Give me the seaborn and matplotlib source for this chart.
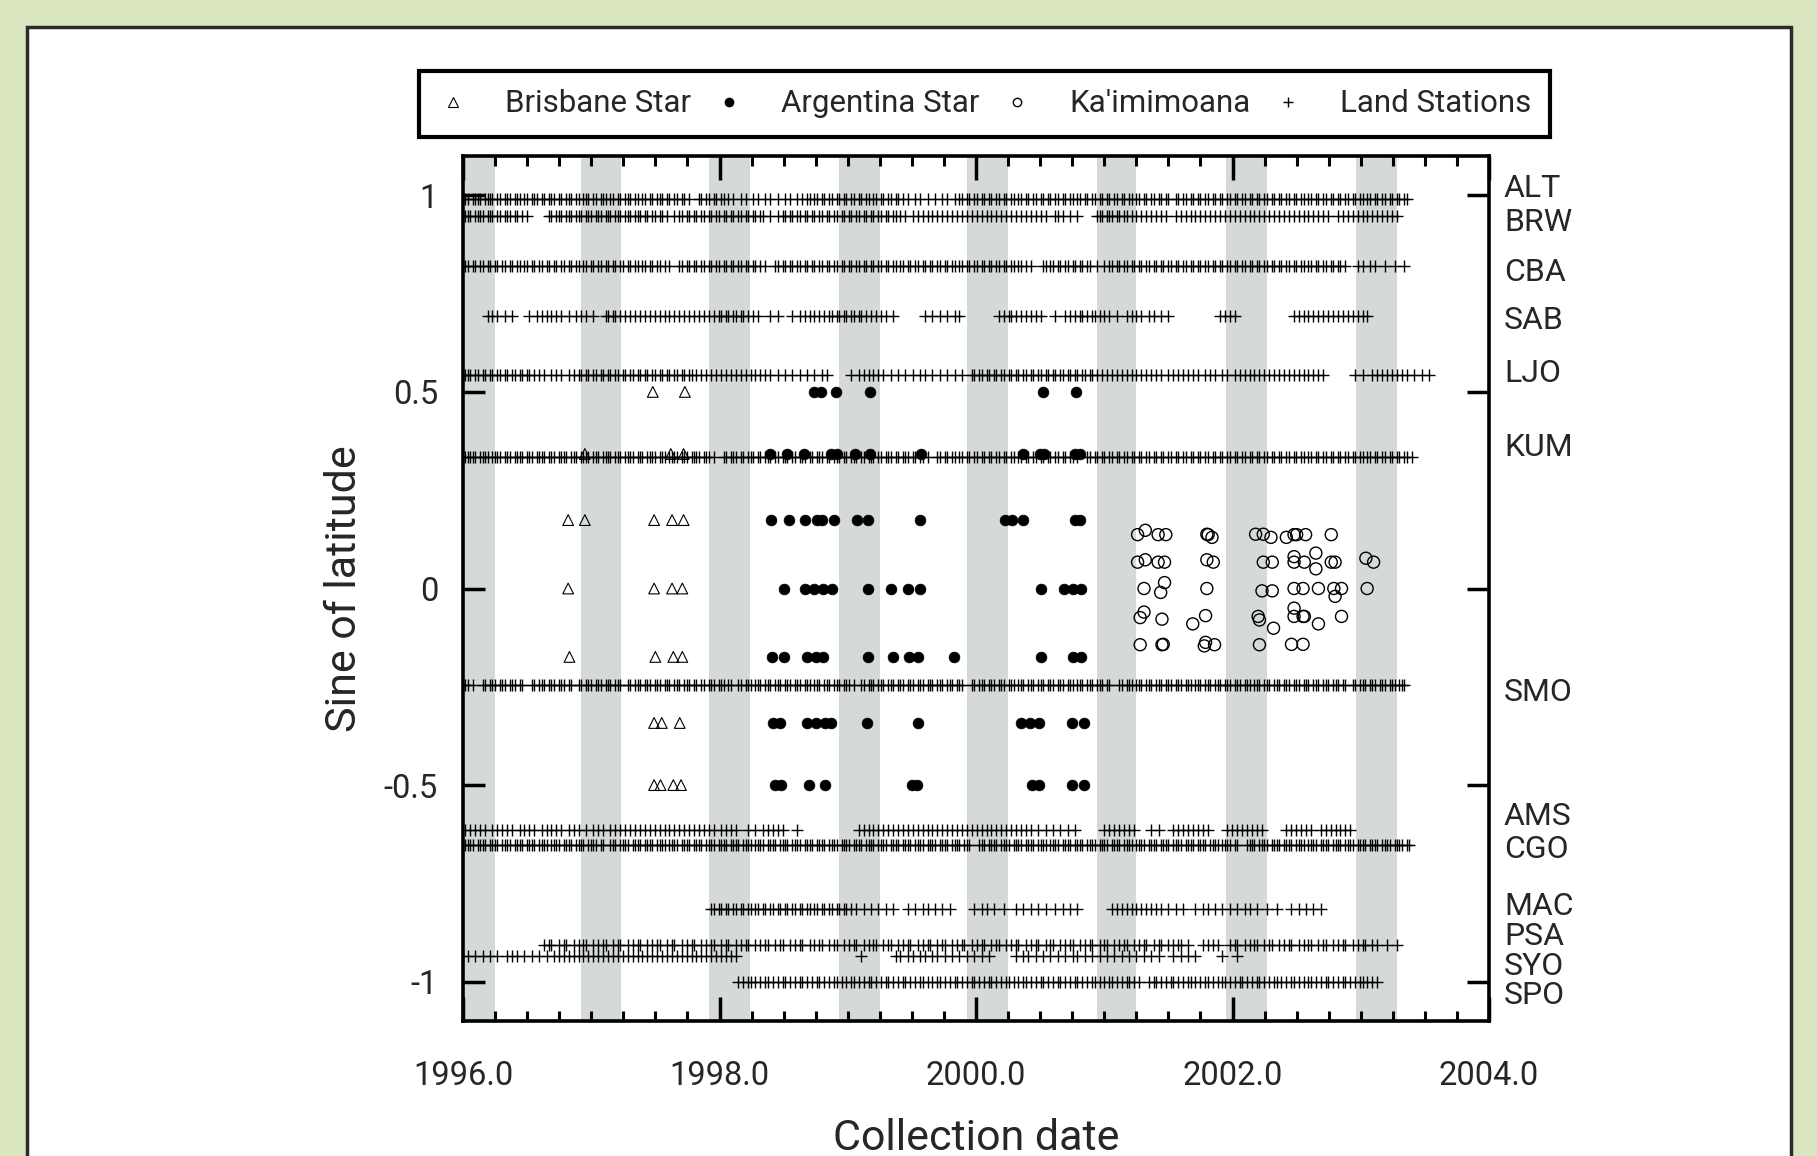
import matplotlib
matplotlib.use("Agg")
import numpy as np
import pandas as pd
import matplotlib.pyplot as plt
import matplotlib.transforms as mtransforms
import seaborn as sns
from matplotlib.lines import Line2D
from matplotlib.patches import Rectangle
from matplotlib.ticker import MultipleLocator

sns.set_theme(style="white")
plt.rcParams["font.family"] = ["Roboto", "DejaVu Sans"]

# land stations: name, sine of latitude, sampling weeks since 1 Jan 1996
station_names = ["ALT", "BRW", "CBA", "SAB", "LJO", "KUM", "SMO",
                 "AMS", "CGO", "MAC", "PSA", "SYO", "SPO"]
station_sinlat = [0.991, 0.947, 0.821, 0.694, 0.543, 0.334, -0.246,
                  -0.613, -0.652, -0.814, -0.906, -0.934, -1.000]

alt_wk = [0, 1, 2, 4, 5, 6, 7, 9, 10, 11, 12, 14, 15, 17, 18, 19, 21, 22, 23, 25, 26, 28, 29, 30, 32, 33,
          35, 36, 37, 39, 40, 42, 43, 44, 46, 47, 49, 50, 51, 53, 54, 56, 57, 58, 60, 61, 63, 64, 66, 67,
          68, 70, 71, 73, 74, 76, 77, 79, 80, 81, 83, 84, 86, 87, 89, 90, 92,
          96, 97, 99, 100, 102, 103, 105, 106, 108, 110, 113, 115, 118, 120, 123, 125, 128, 131, 133, 136,
          138, 140, 141, 143, 144, 146, 147, 149, 150, 152, 153, 155, 156, 158, 159, 161, 162, 164, 165,
          167, 168, 170, 171, 173, 174, 176, 177, 179, 181, 184, 186, 189, 192, 195, 197, 200, 202, 203,
          205, 206, 208, 209, 211, 212, 214, 215, 217, 218, 220, 221, 223, 224, 226, 227, 229, 230, 232,
          233, 235, 236, 238, 239, 241, 242, 244, 245, 247, 248, 250, 251, 253, 254, 256, 257, 259, 260,
          262, 263, 265, 266, 268, 269, 271, 272, 274, 275, 277, 278, 280, 281, 283, 284, 286, 287,
          290, 291, 293, 294, 296, 297, 299, 300, 302, 303, 305, 306, 308, 309, 311, 312, 314, 315, 317,
          318, 320, 321, 323, 324, 326, 327, 329, 330, 332, 333, 335, 336, 338, 339, 341, 342, 344, 345,
          347, 348, 350, 351, 353, 354, 356, 357, 359, 360, 362, 363, 365, 366, 368, 369, 371, 372, 374,
          375, 377, 378, 380, 381, 383, 384]
brw_wk = [0, 1, 2, 3, 5, 6, 7, 8, 10, 11, 12, 14, 15, 17, 18, 19, 21, 22, 24, 26,
          35, 36, 38, 39, 40, 42, 43, 44, 46, 47, 48, 50, 51, 52, 54, 55, 56, 58, 59, 60, 62, 63, 64, 66,
          67, 68, 70, 71, 72, 74, 75, 77, 78, 80, 81, 83,
          86, 88, 89, 91, 92, 94, 95, 97, 98, 100, 101, 103, 104, 106, 107, 109, 110, 112, 113, 115, 116,
          118, 119, 121, 122, 125, 128, 130, 131, 133, 134, 136, 137, 139, 140, 142, 143, 145, 146, 148,
          149, 151, 152, 154, 155, 157, 158, 160, 161, 163, 164, 166, 167, 169, 170, 172, 173, 175, 176,
          178, 180, 183,
          185, 187, 189, 191, 193, 195, 197, 199, 201, 203, 205, 207, 209, 211, 213, 215, 217, 219, 221,
          223, 225, 227, 229, 231, 233, 235, 237,
          241, 242, 244, 247, 250,
          258, 259, 260, 262, 263, 264, 266, 267, 269, 270, 272, 274, 276, 278, 280, 282, 284, 286, 290,
          292, 294, 296, 298, 300, 302, 304, 306, 308, 310, 312, 314, 316, 318, 320, 322, 324, 326, 328,
          330, 332, 334, 336, 338, 340, 342, 344, 346, 348, 350, 352, 356, 358, 360, 362, 364, 366, 368,
          370, 372, 374, 376, 378, 380]
cba_wk = [0, 1, 2, 4, 5, 7, 8, 10, 11, 13, 14, 16, 17, 19, 20, 22, 23, 25, 26, 28, 29, 31, 32, 34, 35,
          37, 38, 40, 41, 43, 44, 46, 47, 49, 50, 52, 53, 55, 56, 58, 59, 61, 62, 64, 65, 67, 68, 70, 71,
          73, 74, 76, 77, 79, 80, 82, 84,
          88, 89, 91, 92, 94, 95, 97, 98, 100, 101, 103, 104, 106, 107, 109, 110, 112, 113, 115, 116, 118,
          119, 121, 123,
          127, 128, 130, 131, 133, 134, 136, 137, 139, 140, 142, 143, 145, 146, 148, 149, 151, 152, 154,
          155, 157, 158, 160, 161, 163, 164, 166, 167, 169, 170, 172, 173, 175, 176, 178, 179, 181, 182,
          184, 185, 187, 188, 190, 191, 193, 194, 196, 197, 199, 200, 202, 203, 205, 206, 208, 209, 211,
          212, 214, 215, 217, 218, 220, 221, 223, 224, 226, 227, 229, 231,
          236, 237, 239, 240, 242, 243, 245, 246, 248, 249, 251, 252, 254, 255, 258, 261, 263, 264, 266,
          267, 269, 270, 272, 273, 275, 276, 278, 279, 281, 282, 284, 285, 287, 288, 290, 291, 293, 294,
          296, 297, 299, 300, 302, 303, 305, 306, 308, 309, 311, 312, 314, 315, 317, 318, 320, 321, 323,
          324, 326, 327, 329, 330, 332, 333, 335, 336, 338, 339, 341, 342, 344, 345, 347, 348, 350, 351,
          353, 354, 356, 357, 359,
          364, 366, 369, 371, 375, 379, 383]
sab_wk = [10, 12, 14, 17, 20,
          27, 30, 32, 34, 36, 38, 40, 43, 46, 48, 50, 53,
          58, 59, 61, 62, 64, 66, 68, 70, 72, 74, 76, 78, 80, 82, 84, 86, 88, 90, 92, 94, 96, 98, 100, 102,
          104, 105, 107, 108, 110, 111, 113, 114, 116, 118, 120,
          125, 128,
          134, 137, 139, 141, 143, 145, 147, 149, 150, 152, 153, 155, 156, 158, 159, 161, 162, 164, 166,
          168, 170, 172, 175,
          188, 191, 194, 197, 200, 202,
          218, 220, 222, 223, 225, 227, 229, 231, 233, 235,
          241, 245, 247, 249, 251, 252, 254, 256, 257, 259, 261, 263, 266,
          270, 272, 274, 276, 279, 281, 284, 287,
          308, 310, 312, 314,
          338, 340, 342, 344, 346, 348, 350, 352, 354, 356, 358, 360, 362, 364, 366, 368]
ljo_wk = [0, 1, 2, 3, 5, 6, 8, 9, 11, 12, 14, 15, 17, 18, 20, 21, 23, 24, 26, 27,
          29, 31, 33, 36, 38, 40, 43, 45, 47, 48, 50, 51, 53, 54, 56, 57, 59, 60, 62, 63, 65, 66, 68, 69,
          71, 72, 74, 75, 77, 78, 80, 81, 83, 84, 86, 87, 89, 90, 92, 93, 95, 97, 99, 101, 103, 105, 107,
          109, 111, 113, 115, 117, 119, 121, 123, 125, 128, 131, 134, 137, 140, 143, 146, 148,
          158, 161, 163, 165, 167, 169,
          171, 174, 177, 180, 183, 186, 188, 191, 194, 197, 200, 203,
          207, 208, 210, 211, 213, 214, 216, 217, 219, 220, 222, 223, 225, 226, 228, 229, 231, 232, 234,
          235, 237, 238, 240, 241, 243, 244, 246, 247, 249, 250, 252, 253, 255, 256, 258, 260,
          262, 264, 266, 268, 270, 272, 274, 276, 278, 280, 282, 284, 287,
          289, 291, 293, 295, 297, 299, 302, 304, 306, 309, 311, 314,
          316, 318, 320, 322, 324, 326, 328, 330, 332, 334, 336, 338, 340, 342, 344, 346, 348, 350,
          363, 366,
          370, 372, 374, 376, 378, 380, 382, 384, 387, 390, 393]
kum_wk = [0, 1, 2, 3, 4, 5, 7, 8, 9, 10, 12, 13, 14, 15, 17, 18, 19, 21, 22, 23, 24, 26, 27, 28, 30, 31,
          32, 33, 35, 36, 37, 39, 40, 41, 42, 44, 45, 46, 48, 49, 50, 51, 53, 54, 55, 57, 58, 59, 60, 62,
          63, 64, 66, 67, 68, 69, 71, 72, 73, 75, 76, 77, 78, 80, 81, 82, 84, 85, 86, 87, 89, 90, 91, 93,
          94, 95, 96, 98, 99, 100, 102,
          106, 107, 109, 110, 111, 113, 114, 116, 117, 118, 120, 121, 123, 124, 125, 127, 128, 130, 131,
          132, 134, 135, 137, 138, 139, 141, 142, 144, 145, 146, 148, 149, 151, 152, 153, 155, 156, 158,
          159, 160, 162, 163, 165, 166, 167, 169, 170, 172, 173, 174, 176, 177, 179, 180, 181, 183, 184,
          186, 187, 189,
          193, 194, 196, 197, 199, 200, 202, 203, 205, 206, 208, 209, 211, 212, 214, 215, 217, 218, 220,
          221, 223, 224, 226, 227, 229, 230, 232, 233, 235, 236, 238, 239, 241, 242, 244, 245, 247, 248,
          250,
          254, 255, 257, 258, 260, 261, 263, 264, 266, 267, 269, 270, 272, 273, 275, 276, 278, 279, 281,
          282, 284, 285, 287, 288, 290, 291, 293, 294, 296, 297, 299, 300, 302, 303, 305, 306, 308, 309,
          311, 312, 314, 315, 317, 318, 320, 321, 323, 324, 326, 327, 329, 330, 332, 333, 335, 336, 338,
          339, 341, 342, 344, 345, 347, 348, 350, 351, 353, 354, 356, 357, 359, 360, 362, 363, 365, 366,
          368, 369, 371, 372, 374, 375, 377, 378, 380, 381, 383, 384, 386]
smo_wk = [0, 1, 2, 4,
          8, 9, 11, 12, 13, 15, 16, 17, 19, 20, 21, 23, 24,
          28, 29, 31, 32, 33, 35, 36, 37, 39, 40, 41, 43, 44,
          47, 48, 50, 51, 52, 54, 55, 56, 58, 59, 60, 62, 63, 64,
          67, 68, 70, 71, 72, 74, 75, 76, 78, 79, 80, 82, 83, 84, 86, 87, 88, 90, 91, 92, 94, 95,
          97, 98, 100, 101, 102, 104, 105, 106, 108, 109,
          112, 113, 115, 116, 117, 119, 120, 121, 123, 124, 125, 127, 128, 129, 131, 132, 133, 135, 136,
          137, 139, 140, 141, 143, 144, 145, 147, 148, 149, 151, 152, 153, 155, 156, 157, 159,
          162, 163, 165, 166, 167, 169, 170, 171, 173, 174, 175, 177, 178, 179, 181, 182, 183, 185, 186,
          187, 189, 190, 191, 193, 194, 195, 197, 198, 199, 201, 202, 203,
          207, 208, 210, 211, 212, 214, 215, 216, 218, 219, 220, 222, 223, 224, 226, 227, 228, 230, 231,
          232, 234, 235, 236, 238, 239, 240, 242, 243, 244, 246, 247, 248, 250, 251, 252, 254, 255, 256,
          258, 259, 260, 262, 263,
          267, 268, 270, 271, 272, 274, 275, 276, 278, 279, 280, 282, 283, 284, 286, 287, 288, 290, 291,
          292, 294, 295, 296, 298, 299, 300, 302, 303, 304, 306, 307, 308, 310, 311, 312, 314, 315, 316,
          318, 319, 320, 322, 323, 324, 326, 327, 328, 330, 331, 332, 334, 335, 336, 338, 339, 340, 342,
          343, 344, 346, 347, 348, 350, 351, 352, 354, 355, 356, 358, 359,
          362, 363, 365, 366, 367, 369, 370, 371, 373, 374, 375, 377, 378, 379, 381, 382, 383]
ams_wk = [1, 3, 5, 7, 9, 12, 14, 16, 18, 20, 23, 25, 27, 29, 32, 34, 36, 38, 40, 43, 45, 47, 50, 53, 55,
          57, 60, 62, 64, 66, 68, 70, 72, 74, 76, 78, 80, 82, 84, 86, 88, 90, 92, 94, 96, 98, 100, 102,
          105, 107, 109, 111, 116, 119, 122, 124, 126, 128, 130, 136,
          161, 163, 165, 167, 169, 171, 173, 175, 177, 179, 181, 183,
          185, 187, 189, 191, 193, 195, 197, 199, 201, 203, 205, 207, 209, 211, 213, 215, 217, 219, 221,
          223, 225, 227, 229, 231, 234, 237, 240, 243, 246, 249,
          261, 263, 265, 267, 269, 271, 273, 280, 283,
          289, 291, 293, 295, 297, 299, 301, 303,
          311, 313, 315, 317, 319, 321, 323, 325,
          335, 337, 339, 341, 343, 345, 349, 351, 353, 355, 357, 359, 361]
cgo_wk = [0, 1, 2, 3, 4, 6, 7, 8, 9, 11, 12, 13, 14, 16, 17, 18, 19, 21, 22, 23, 24, 26, 27, 28, 29,
          31, 32, 33, 34, 36, 37, 38, 39, 41, 42, 43, 44, 46, 47, 48, 49, 51, 52, 53, 54, 56, 57,
          60, 61, 62, 64, 65, 66, 67, 69, 70, 71, 72, 74, 75, 76, 77, 79, 80, 81, 82, 84, 85, 86, 87, 89,
          90, 91, 92, 94, 95, 96, 97, 99, 100, 101, 102, 104, 105, 106, 107, 109, 110, 111, 112, 114, 115,
          116, 117, 119, 120, 121, 122, 124, 125, 126, 127, 129, 130, 131, 132, 134, 135, 136, 137, 139,
          140, 141, 142, 144, 145, 146, 147, 149, 150, 151, 152, 154, 155, 156, 157, 159, 160, 161, 162,
          164, 165, 166, 167, 169, 170, 171, 172, 174, 175, 176, 177, 179, 180, 181, 182, 184, 185, 186,
          187, 189, 190, 191, 192, 194, 195, 196, 197, 199, 200, 201, 202, 204, 205, 206,
          210, 211, 212, 214, 215, 216, 217, 219, 220, 221, 222, 224, 225, 226, 227, 229, 230, 231, 232,
          234, 235, 236, 237, 239, 240, 241, 242, 244, 245, 246, 247, 249, 250, 251, 252, 254, 255, 256,
          257, 259, 260, 261, 262, 264, 265, 266, 267, 269, 270, 271, 272, 274, 275, 276, 277, 279, 280,
          281, 282, 284, 285, 286, 287, 289, 290, 291, 292, 294, 295, 296, 297, 299, 300, 301, 302, 304,
          305, 306, 307, 309, 310, 311, 312, 314, 315,
          319, 320, 321, 322, 324, 325, 326, 327, 329, 330, 331, 332, 334, 335, 336, 337, 339, 340, 341,
          342, 344, 345, 346, 347, 349, 350, 351, 352, 354, 355, 356, 357, 359, 360, 361, 362, 364, 365,
          366, 367, 369, 370, 371, 372, 374, 375, 376, 377, 379, 380, 381, 382, 384, 385]
mac_wk = [101, 102, 104, 105, 107, 108, 110, 111, 113, 114, 116, 117, 119, 120, 122, 123, 125, 126, 128,
          129, 131, 132, 134, 135, 137, 138, 140, 141, 143, 144, 146, 147, 149, 150, 152, 153, 155, 156,
          158, 160,
          163, 166, 169, 172, 175,
          181, 184, 187, 189, 192, 195, 198,
          208, 211, 213, 216, 220,
          225, 228, 231, 234, 237, 241, 244, 247, 250,
          264, 266, 268, 270, 272, 274, 276, 278, 280, 282, 284, 287, 290, 293,
          298, 301, 303, 306, 309, 312, 315, 318, 320, 323,
          327, 331,
          337, 340, 343, 346, 349]
psa_wk = [33, 35, 36, 39, 41, 42, 45, 47, 49, 50, 53, 55, 57, 58, 61, 63, 64, 67, 69, 71, 72, 75, 77, 79,
          80, 83, 85, 86, 89, 91, 93, 94, 97, 99, 101, 102, 105, 107, 108, 111, 113, 115, 116, 119, 121,
          123, 124, 127, 129, 130, 133, 135, 137, 138, 141, 143, 145, 146, 149, 151, 152, 155, 157, 159,
          160, 163, 165, 167, 168, 171, 173, 174, 177, 179, 181, 182, 185, 187, 189, 190, 193, 195, 196,
          199, 201, 203, 204, 207, 209, 211, 212, 215, 217, 218, 221, 223, 225, 226, 229, 231, 233, 234,
          237, 239, 240, 243, 245, 247, 248, 251, 253, 255, 256, 259, 261, 262, 265, 267, 269, 270, 273,
          275, 277, 278, 281, 283, 284, 287, 289, 291, 292, 295,
          301, 303, 305, 307,
          312, 314, 315, 318, 320, 322, 323, 326, 328, 329, 332, 334, 336, 337, 340, 342, 344, 345, 348,
          350, 351, 354, 356, 358, 359, 362, 364, 366, 367, 370, 372,
          376, 380]
syo_wk = [0, 2, 5, 8, 11, 14,
          18, 20, 22, 25, 28, 31, 34, 37,
          39, 41, 43, 45, 47, 49, 51, 53, 55, 57, 59, 61, 63, 65, 67, 69, 71, 73, 75, 77, 79, 81, 83, 85,
          87, 89, 91, 93, 95, 97, 99, 101, 103, 105, 107, 109, 111,
          162,
          176, 178, 181, 183, 186, 188, 191, 193, 196, 199, 202, 205, 208, 211, 214,
          225, 228, 230, 233, 236, 239, 242, 245, 248, 250,
          253, 256, 259, 262, 265, 268, 271, 274, 277, 280, 283,
          289, 292, 295, 298,
          309, 315]
spo_wk = [112, 114, 116, 117, 119, 121, 123, 124, 126, 128, 130, 131, 133, 135, 137, 138, 140, 142, 144,
          145, 147, 149, 151, 152, 154, 156, 158, 159, 161, 163, 165, 166, 168, 170, 172, 173, 175, 177,
          179, 180, 182, 184, 186, 187, 189, 191, 193, 194, 196, 198, 200, 201, 203, 205, 207, 208, 210,
          212, 214, 215, 217, 219, 221, 222, 224, 226, 228, 229, 231, 233, 235, 236, 238, 240, 242, 243,
          245, 247, 249, 250, 252, 254, 256, 257, 259, 261, 263, 264, 266, 268, 270, 271, 273, 275,
          279, 281, 282, 284, 286, 288, 289, 291, 293, 295, 296, 298, 300, 302, 303, 305, 307, 309, 310,
          312, 314, 316, 317, 319, 321, 323, 324, 326, 328, 330, 331, 333, 335, 337, 338, 340, 342, 344,
          345, 347, 349, 351, 352, 354, 356, 358, 359, 361, 363, 365, 366, 368, 370, 372]
station_weeks = [alt_wk, brw_wk, cba_wk, sab_wk, ljo_wk, kum_wk, smo_wk,
                 ams_wk, cgo_wk, mac_wk, psa_wk, syo_wk, spo_wk]

# ship transects: sampled latitude rows and collection dates
brisbane_rows = [0.5, 0.342, 0.174, 0.0, -0.174, -0.342, -0.5]
brisbane_dates = [[1997.48, 1997.73],
                  [1996.95, 1997.62, 1997.72],
                  [1996.82, 1996.95, 1997.49, 1997.63, 1997.72],
                  [1996.82, 1997.49, 1997.63, 1997.71],
                  [1996.83, 1997.50, 1997.64, 1997.71],
                  [1997.49, 1997.55, 1997.69],
                  [1997.49, 1997.54, 1997.64, 1997.70]]
argentina_rows = [0.5, 0.342, 0.174, 0.0, -0.174, -0.342, -0.5]
argentina_dates = [[1998.74, 1998.79, 1998.91, 1999.17, 2000.52, 2000.78],
                   [1998.39, 1998.53, 1998.66, 1998.87, 1998.92, 1999.06, 1999.17, 1999.57,
                    2000.37, 2000.50, 2000.53, 2000.77, 2000.81],
                   [1998.40, 1998.54, 1998.67, 1998.76, 1998.80, 1998.89, 1999.07, 1999.16,
                    1999.56, 2000.23, 2000.28, 2000.37, 2000.77, 2000.81],
                   [1998.50, 1998.67, 1998.74, 1998.81, 1998.88, 1999.16, 1999.34, 1999.47,
                    1999.56, 2000.51, 2000.69, 2000.76, 2000.82],
                   [1998.41, 1998.50, 1998.68, 1998.75, 1998.81, 1999.16, 1999.35, 1999.48,
                    1999.55, 1999.83, 2000.51, 2000.76, 2000.82],
                   [1998.42, 1998.47, 1998.68, 1998.75, 1998.82, 1998.87, 1999.15, 1999.55,
                    2000.35, 2000.42, 2000.49, 2000.75, 2000.84],
                   [1998.43, 1998.48, 1998.70, 1998.82, 1999.50, 1999.54, 2000.44, 2000.49,
                    2000.75, 2000.84]]
kaimi_date = [2001.26, 2001.32, 2001.42, 2001.48, 2001.80, 2001.81, 2001.84, 2002.18, 2002.24,
              2002.30, 2002.42, 2002.48, 2002.50, 2002.57, 2002.77,
              2001.26, 2001.32, 2001.42, 2001.47, 2001.80, 2001.85, 2002.24, 2002.31, 2002.48,
              2002.48, 2002.56, 2002.65, 2002.65, 2002.77, 2002.80, 2003.04, 2003.10,
              2001.31, 2001.47, 2001.44, 2001.80, 2002.23, 2002.31, 2002.48, 2002.55, 2002.67,
              2002.79, 2002.85, 2002.80, 2003.05,
              2001.31, 2001.28, 2001.45, 2001.69, 2001.79, 2002.20, 2002.21, 2002.32, 2002.48,
              2002.48, 2002.55, 2002.56, 2002.67, 2002.85,
              2001.28, 2001.45, 2001.46, 2001.79, 2001.78, 2001.86, 2002.21, 2002.46, 2002.55]
kaimi_sinlat = [0.137, 0.148, 0.137, 0.137, 0.138, 0.137, 0.130, 0.138, 0.138,
                0.130, 0.130, 0.137, 0.137, 0.137, 0.137,
                0.067, 0.073, 0.067, 0.067, 0.073, 0.067, 0.067, 0.067, 0.081,
                0.067, 0.067, 0.090, 0.050, 0.067, 0.067, 0.077, 0.067,
                0.000, 0.015, -0.010, 0.000, -0.006, -0.006, 0.000, 0.000, 0.000,
                0.000, 0.000, -0.020, 0.000,
                -0.060, -0.074, -0.078, -0.090, -0.069, -0.071, -0.080, -0.101, -0.050,
                -0.071, -0.071, -0.071, -0.090, -0.071,
                -0.143, -0.143, -0.142, -0.137, -0.146, -0.143, -0.143, -0.142, -0.142]

# shaded periods
band_start = [1995.92, 1996.92, 1997.92, 1998.93, 1999.93, 2000.94, 2001.95, 2002.96]
band_end = [1996.25, 1997.23, 1998.24, 1999.25, 2000.25, 2001.25, 2002.27, 2003.28]

# where the station names sit (baseline, in sine of latitude)
label_y = [0.995, 0.909, 0.783, 0.660, 0.524, 0.338, -0.285,
           -0.601, -0.686, -0.830, -0.906, -0.983, -1.057]

land = pd.concat([pd.DataFrame({"station": name, "sinlat": s,
                                "date": 1996 + np.array(wk) / 52.18})
                  for name, s, wk in zip(station_names, station_sinlat, station_weeks)])
brisbane = pd.concat([pd.DataFrame({"sinlat": r, "date": d})
                      for r, d in zip(brisbane_rows, brisbane_dates)])
argentina = pd.concat([pd.DataFrame({"sinlat": r, "date": d})
                       for r, d in zip(argentina_rows, argentina_dates)])
kaimi = pd.DataFrame({"date": kaimi_date, "sinlat": kaimi_sinlat})

W, H = 1817, 1156
fig = plt.figure(figsize=(W / 100, H / 100), dpi=100)
fig.patch.set_facecolor("#d9e6bf")
fig.add_artist(Rectangle((27 / W, -0.1), (1791 - 27) / W, 1.1 - 27 / H,
                         transform=fig.transFigure, facecolor="white",
                         edgecolor="#2b2b2b", linewidth=2.5, zorder=0))
ax = fig.add_axes([463 / W, 1 - 1021 / H, (1489 - 463) / W, (1021 - 156) / H])
ax.set_facecolor("white")

for s, e in zip(band_start, band_end):
    ax.axvspan(s, e, color="#d5d9da", lw=0, zorder=0)

sns.scatterplot(data=land, x="date", y="sinlat", marker="+", color="black",
                s=75, linewidth=1.0, legend=False, ax=ax, zorder=3)
sns.scatterplot(data=brisbane, x="date", y="sinlat", marker="^", color="black",
                facecolors="none", edgecolor="black", s=60, linewidth=0.8,
                legend=False, ax=ax, zorder=4)
sns.scatterplot(data=argentina, x="date", y="sinlat", marker="o", color="black",
                edgecolor="black", s=60, linewidth=0.5, legend=False, ax=ax, zorder=4)
sns.scatterplot(data=kaimi, x="date", y="sinlat", marker="o", color="black",
                facecolors="none", edgecolor="black", s=75, linewidth=1.0,
                legend=False, ax=ax, zorder=4)

ax.set_xlim(1996, 2004)
ax.set_ylim(-1.1, 1.1)
xt = [1996, 1998, 2000, 2002, 2004]
ax.set_xticks(xt)
ax.set_xticklabels([f"{v:.1f}" for v in xt])
ax.xaxis.set_minor_locator(MultipleLocator(0.25))
ax.set_yticks([-1, -0.5, 0, 0.5, 1])
ax.set_yticklabels(["-1", "-0.5", "0", "0.5", "1"])
ax.tick_params(axis="both", which="both", direction="in", top=True, right=True,
               bottom=True, left=True, color="black", labelsize=23.5)
ax.tick_params(axis="y", which="major", length=16, width=2.5, pad=18)
ax.tick_params(axis="x", which="major", length=17, width=2.5, pad=28)
ax.tick_params(axis="x", which="minor", length=7, width=2.2)
for sp in ax.spines.values():
    sp.set_linewidth(2.6)
    sp.set_color("black")

ax.set_xlabel("Collection date", fontsize=31)
ax.set_ylabel("Sine of latitude", fontsize=31)
ax.xaxis.set_label_coords(0.5, -0.112)
ax.yaxis.set_label_coords(-0.096, 0.5)

trans = mtransforms.blended_transform_factory(ax.transAxes, ax.transData)
for name, yb in zip(station_names, label_y):
    ax.text(1.0146, yb, name, transform=trans, ha="left", va="baseline",
            fontsize=23, clip_on=False)

handles = [
    Line2D([], [], ls="", marker="^", ms=7, mfc="none", mec="black", mew=0.8),
    Line2D([], [], ls="", marker="o", ms=6, mfc="black", mec="black"),
    Line2D([], [], ls="", marker="o", ms=6, mfc="none", mec="black", mew=1.0),
    Line2D([], [], ls="", marker="+", ms=7, mec="black", mew=1.0),
]
labels = ["Brisbane Star", "Argentina Star", "Ka'imimoana", "Land Stations"]
leg = fig.legend(handles, labels, loc="center", bbox_to_anchor=(984.5 / W, 1 - 104 / H),
                 ncol=4, frameon=True, fancybox=False, shadow=False, fontsize=22.5,
                 handlelength=1.0, handletextpad=1.17, columnspacing=0.7,
                 borderpad=0.6, edgecolor="black", framealpha=1)
leg.get_frame().set_linewidth(3)

fig.savefig("out.png", dpi=100, facecolor=fig.get_facecolor())
